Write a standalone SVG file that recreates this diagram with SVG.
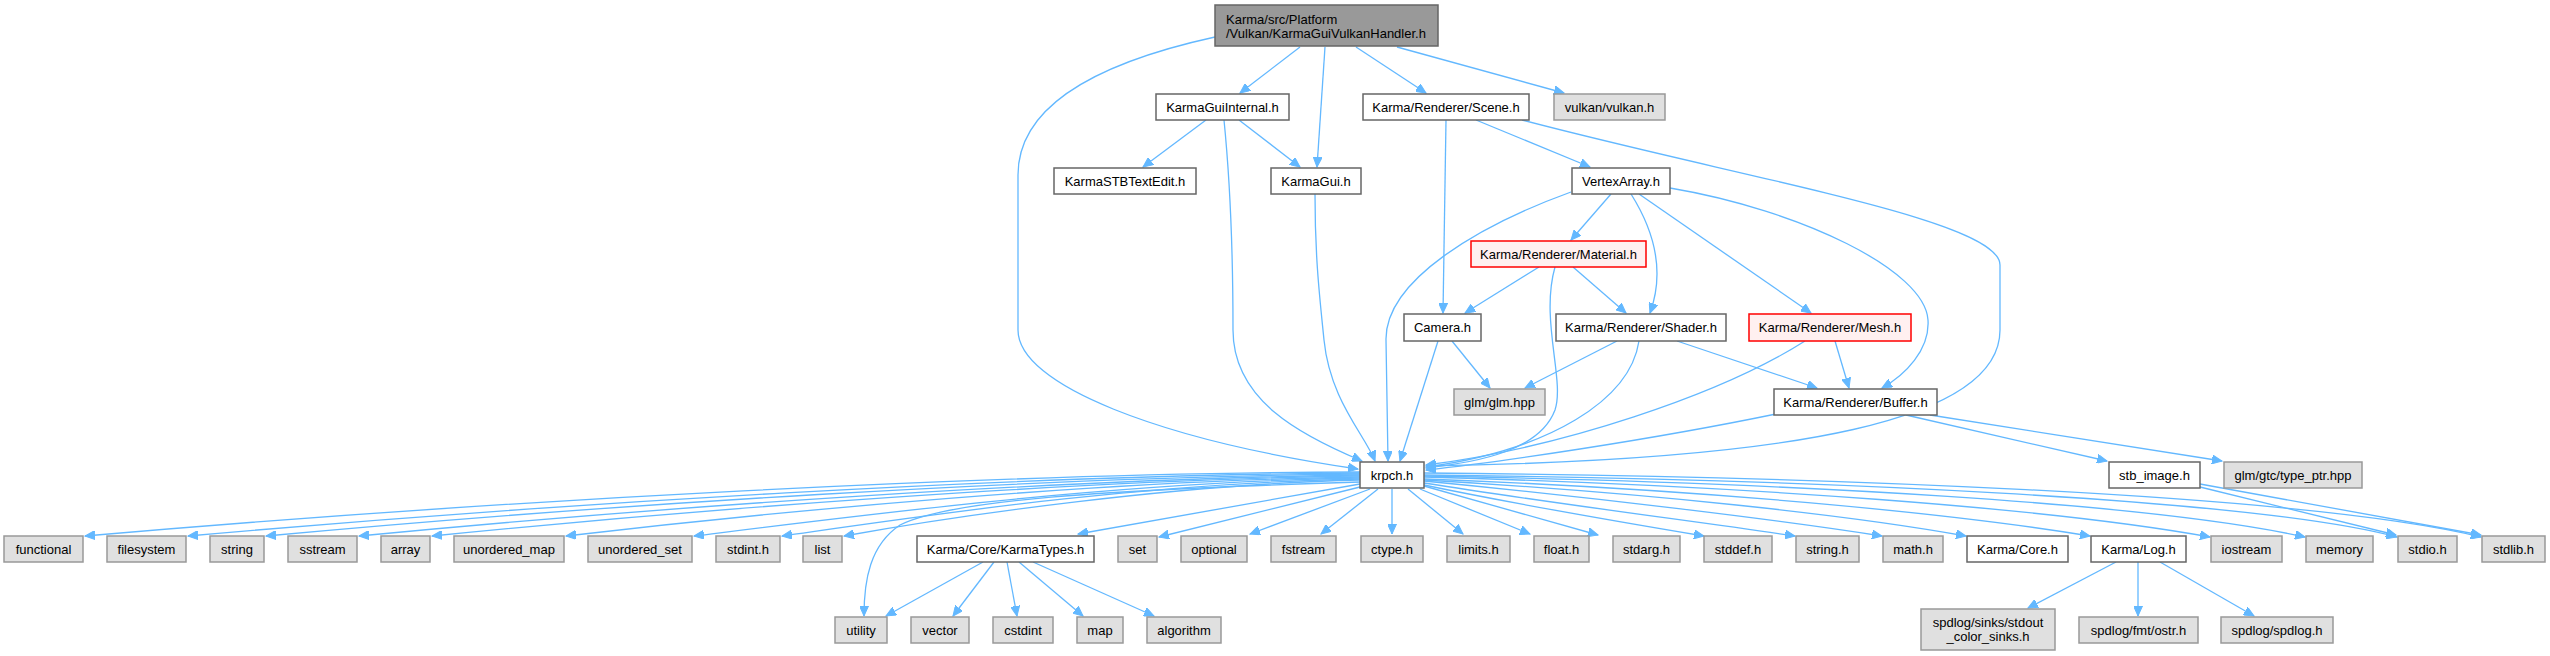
<svg xmlns="http://www.w3.org/2000/svg" width="2550" height="656" viewBox="0 0 2550 656">
<defs>
<marker id="a" markerWidth="11" markerHeight="9" refX="10" refY="4.5" orient="auto" markerUnits="userSpaceOnUse"><path d="M0,0 L10,4.5 L0,9 z" fill="#63b8ff" stroke="#63b8ff" stroke-width="1"/></marker>
</defs>
<style>
rect{stroke-width:1.5}
.n rect{fill:#ffffff;stroke:#666666}
.g rect{fill:#e0e0e0;stroke:#999999}
.r rect{fill:#fff0f0;stroke:#ff0000}
.t rect{fill:#999999;stroke:#666666}
text{font-family:"Liberation Sans",Arial,Helvetica,sans-serif;font-size:13px;fill:#000000;text-anchor:middle}
.t text{text-anchor:start}
.e path{fill:none;stroke:#63b8ff;stroke-width:1.3;marker-end:url(#a)}
</style>
<rect width="2550" height="656" fill="#ffffff"/>
<g id="edges" class="e">
<path d="M1215,37 C1110,60 1018,100 1018,175 L1018,330 C1018,385 1160,440 1358,469"/>
<path d="M1300,47 L1240,93"/>
<path d="M1325,47 L1317,167"/>
<path d="M1356,47 L1426,93"/>
<path d="M1397,47 L1564,93"/>
<path d="M1206,120 L1143,167"/>
<path d="M1239,120 L1300,167"/>
<path d="M1224,120 C1230,180 1233,250 1233,330 C1233,400 1300,435 1362,461"/>
<path d="M1315,194 C1315,260 1320,300 1324,340 C1330,400 1365,435 1375,461"/>
<path d="M1446,120 L1443,313"/>
<path d="M1476,120 L1590,167"/>
<path d="M1522,120 C1750,180 2000,220 2000,265 L2000,330 C2000,420 1800,460 1426,466"/>
<path d="M1571,192 C1480,225 1385,280 1386,340 L1388,461"/>
<path d="M1611,194 L1571,240"/>
<path d="M1631,194 C1660,240 1662,280 1650,313"/>
<path d="M1639,194 L1811,313"/>
<path d="M1670,188 C1800,210 1925,270 1928,320 C1930,350 1905,375 1882,388"/>
<path d="M1539,267 L1465,313"/>
<path d="M1573,267 L1626,313"/>
<path d="M1555,267 C1540,320 1565,380 1555,410 C1540,450 1480,462 1426,468"/>
<path d="M1452,341 L1490,388"/>
<path d="M1438,341 L1400,461"/>
<path d="M1617,341 L1525,388"/>
<path d="M1639,341 C1630,400 1550,450 1426,467"/>
<path d="M1677,341 L1817,388"/>
<path d="M1835,341 L1849,388"/>
<path d="M1805,341 C1720,395 1560,448 1426,465"/>
<path d="M1776,414 C1650,440 1500,462 1426,470"/>
<path d="M1906,415 L2107,461"/>
<path d="M1930,415 L2222,461"/>
<path d="M2200,487 L2396,535"/>
<path d="M2200,484 L2481,535"/>
<path d="M1360,472 C1000,473 500,500 85,536"/>
<path d="M1360,473 C1020,475 560,503 188,536"/>
<path d="M1360,474 C1040,477 600,505 266,536"/>
<path d="M1360,475 C1060,479 660,507 359,536"/>
<path d="M1360,476 C1080,480 700,509 432,536"/>
<path d="M1360,477 C1100,481 780,511 566,536"/>
<path d="M1360,478 C1120,482 880,513 694,536"/>
<path d="M1360,479 C1140,483 930,515 782,536"/>
<path d="M1360,480 C1180,484 960,515 844,536"/>
<path d="M1360,482 C1100,490 950,500 900,525 C870,545 864,580 864,616"/>
<path d="M1360,484 L1078,534"/>
<path d="M1360,487 L1159,537"/>
<path d="M1370,489 L1250,534"/>
<path d="M1378,489 L1321,534"/>
<path d="M1392,489 L1392,534"/>
<path d="M1408,489 L1463,534"/>
<path d="M1420,489 L1530,534"/>
<path d="M1424,486 L1598,535"/>
<path d="M1424,485 C1520,505 1620,522 1704,536"/>
<path d="M1424,483 C1550,503 1700,522 1795,536"/>
<path d="M1424,481 C1600,498 1780,520 1882,536"/>
<path d="M1424,480 C1650,493 1850,515 1966,536"/>
<path d="M1424,479 C1700,489 1950,513 2090,536"/>
<path d="M1424,477 C1750,486 2050,508 2210,537"/>
<path d="M1424,476 C1800,483 2150,503 2305,537"/>
<path d="M1424,475 C1800,479 2250,498 2397,537"/>
<path d="M1424,473 C1800,476 2300,493 2481,537"/>
<path d="M983,562 L886,616"/>
<path d="M994,562 L953,616"/>
<path d="M1007,562 L1017,616"/>
<path d="M1019,562 L1083,616"/>
<path d="M1033,562 L1154,616"/>
<path d="M2116,562 L2028,608"/>
<path d="M2138,562 L2138,616"/>
<path d="M2160,562 L2254,616"/>
</g>
<g id="node_top" class="t"><rect x="1215" y="5" width="223" height="41"/><text x="1226" y="23.5">Karma/src/Platform</text><text x="1226" y="37.5">/Vulkan/KarmaGuiVulkanHandler.h</text></g>
<g id="node_kgi" class="n"><rect x="1156" y="94" width="133" height="26"/><text x="1222.5" y="111.5">KarmaGuiInternal.h</text></g>
<g id="node_scene" class="n"><rect x="1363" y="94" width="166" height="26"/><text x="1446" y="111.5">Karma/Renderer/Scene.h</text></g>
<g id="node_vulkan" class="g"><rect x="1554" y="94" width="111" height="26"/><text x="1609.5" y="111.5">vulkan/vulkan.h</text></g>
<g id="node_stb" class="n"><rect x="1054" y="168" width="142" height="26"/><text x="1125" y="185.5">KarmaSTBTextEdit.h</text></g>
<g id="node_kgui" class="n"><rect x="1271" y="168" width="90" height="26"/><text x="1316" y="185.5">KarmaGui.h</text></g>
<g id="node_va" class="n"><rect x="1572" y="168" width="98" height="26"/><text x="1621" y="185.5">VertexArray.h</text></g>
<g id="node_material" class="r"><rect x="1471" y="241" width="175" height="26"/><text x="1558.5" y="258.5">Karma/Renderer/Material.h</text></g>
<g id="node_camera" class="n"><rect x="1404" y="314" width="77" height="27"/><text x="1442.5" y="332">Camera.h</text></g>
<g id="node_shader" class="n"><rect x="1556" y="314" width="170" height="27"/><text x="1641" y="332">Karma/Renderer/Shader.h</text></g>
<g id="node_mesh" class="r"><rect x="1749" y="314" width="162" height="27"/><text x="1830" y="332">Karma/Renderer/Mesh.h</text></g>
<g id="node_buffer" class="n"><rect x="1774" y="389" width="163" height="26"/><text x="1855.5" y="406.5">Karma/Renderer/Buffer.h</text></g>
<g id="node_glm" class="g"><rect x="1454" y="389" width="91" height="26"/><text x="1499.5" y="406.5">glm/glm.hpp</text></g>
<g id="node_krpch" class="n"><rect x="1360" y="462" width="64" height="26"/><text x="1392" y="479.5">krpch.h</text></g>
<g id="node_stbimage" class="n"><rect x="2109" y="462" width="91" height="26"/><text x="2154.5" y="479.5">stb_image.h</text></g>
<g id="node_typeptr" class="g"><rect x="2224" y="462" width="138" height="26"/><text x="2293" y="479.5">glm/gtc/type_ptr.hpp</text></g>
<g id="node_functional" class="g"><rect x="4" y="536" width="79" height="26"/><text x="43.5" y="553.5">functional</text></g>
<g id="node_filesystem" class="g"><rect x="107" y="536" width="79" height="26"/><text x="146.5" y="553.5">filesystem</text></g>
<g id="node_string" class="g"><rect x="210" y="536" width="54" height="26"/><text x="237" y="553.5">string</text></g>
<g id="node_sstream" class="g"><rect x="288" y="536" width="69" height="26"/><text x="322.5" y="553.5">sstream</text></g>
<g id="node_array" class="g"><rect x="381" y="536" width="49" height="26"/><text x="405.5" y="553.5">array</text></g>
<g id="node_umap" class="g"><rect x="454" y="536" width="110" height="26"/><text x="509" y="553.5">unordered_map</text></g>
<g id="node_uset" class="g"><rect x="588" y="536" width="104" height="26"/><text x="640" y="553.5">unordered_set</text></g>
<g id="node_stdint" class="g"><rect x="716" y="536" width="64" height="26"/><text x="748" y="553.5">stdint.h</text></g>
<g id="node_list" class="g"><rect x="803" y="536" width="39" height="26"/><text x="822.5" y="553.5">list</text></g>
<g id="node_karmatypes" class="n"><rect x="917" y="536" width="177" height="26"/><text x="1005.5" y="553.5">Karma/Core/KarmaTypes.h</text></g>
<g id="node_set" class="g"><rect x="1118" y="536" width="39" height="26"/><text x="1137.5" y="553.5">set</text></g>
<g id="node_optional" class="g"><rect x="1181" y="536" width="66" height="26"/><text x="1214" y="553.5">optional</text></g>
<g id="node_fstream" class="g"><rect x="1271" y="536" width="65" height="26"/><text x="1303.5" y="553.5">fstream</text></g>
<g id="node_ctype" class="g"><rect x="1361" y="536" width="62" height="26"/><text x="1392" y="553.5">ctype.h</text></g>
<g id="node_limits" class="g"><rect x="1447" y="536" width="63" height="26"/><text x="1478.5" y="553.5">limits.h</text></g>
<g id="node_float" class="g"><rect x="1534" y="536" width="55" height="26"/><text x="1561.5" y="553.5">float.h</text></g>
<g id="node_stdarg" class="g"><rect x="1613" y="536" width="67" height="26"/><text x="1646.5" y="553.5">stdarg.h</text></g>
<g id="node_stddef" class="g"><rect x="1704" y="536" width="68" height="26"/><text x="1738" y="553.5">stddef.h</text></g>
<g id="node_stringh" class="g"><rect x="1796" y="536" width="63" height="26"/><text x="1827.5" y="553.5">string.h</text></g>
<g id="node_math" class="g"><rect x="1883" y="536" width="60" height="26"/><text x="1913" y="553.5">math.h</text></g>
<g id="node_core" class="n"><rect x="1967" y="536" width="101" height="26"/><text x="2017.5" y="553.5">Karma/Core.h</text></g>
<g id="node_log" class="n"><rect x="2091" y="536" width="95" height="26"/><text x="2138.5" y="553.5">Karma/Log.h</text></g>
<g id="node_iostream" class="g"><rect x="2211" y="536" width="71" height="26"/><text x="2246.5" y="553.5">iostream</text></g>
<g id="node_memory" class="g"><rect x="2306" y="536" width="67" height="26"/><text x="2339.5" y="553.5">memory</text></g>
<g id="node_stdio" class="g"><rect x="2398" y="536" width="59" height="26"/><text x="2427.5" y="553.5">stdio.h</text></g>
<g id="node_stdlib" class="g"><rect x="2482" y="536" width="63" height="26"/><text x="2513.5" y="553.5">stdlib.h</text></g>
<g id="node_utility" class="g"><rect x="835" y="617" width="52" height="26"/><text x="861" y="634.5">utility</text></g>
<g id="node_vector" class="g"><rect x="911" y="617" width="58" height="26"/><text x="940" y="634.5">vector</text></g>
<g id="node_cstdint" class="g"><rect x="993" y="617" width="60" height="26"/><text x="1023" y="634.5">cstdint</text></g>
<g id="node_map" class="g"><rect x="1077" y="617" width="46" height="26"/><text x="1100" y="634.5">map</text></g>
<g id="node_algorithm" class="g"><rect x="1147" y="617" width="74" height="26"/><text x="1184" y="634.5">algorithm</text></g>
<g id="node_sinks" class="g"><rect x="1921" y="609" width="134" height="41"/><text x="1988" y="627">spdlog/sinks/stdout</text><text x="1988" y="641">_color_sinks.h</text></g>
<g id="node_ostr" class="g"><rect x="2079" y="617" width="119" height="26"/><text x="2138.5" y="634.5">spdlog/fmt/ostr.h</text></g>
<g id="node_spdlog" class="g"><rect x="2221" y="617" width="112" height="26"/><text x="2277" y="634.5">spdlog/spdlog.h</text></g>
</svg>
